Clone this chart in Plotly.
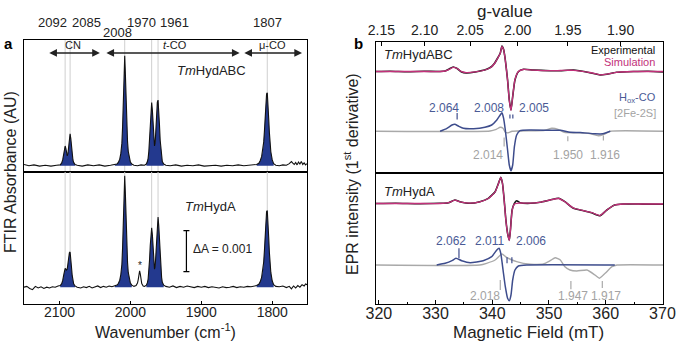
import numpy as np
import plotly.graph_objects as go

W, H = 677, 344
FONT = "Liberation Sans, Arial, Helvetica, sans-serif"

# ---------------- DATA ----------------
# FTIR (absorbance in units of 0.001)
ftir_wn_abc = [2150, 2143, 2136, 2128, 2120, 2112, 2104, 2099, 2097, 2095.5, 2094, 2093, 2092, 2091, 2090, 2089,
               2088, 2087, 2086, 2085, 2084, 2083, 2082, 2081, 2080, 2078, 2075, 2068, 2060, 2052, 2044, 2036,
               2028, 2022, 2019, 2017, 2015, 2013.5, 2012, 2011, 2010, 2009, 2008, 2007, 2006, 2005, 2004, 2003,
               2001.5, 2000, 1998, 1995, 1990, 1985, 1980, 1977.5, 1976, 1975, 1974, 1973, 1972, 1971, 1970,
               1969, 1968, 1967, 1966, 1965, 1964, 1963, 1962, 1961, 1960, 1959, 1958, 1957, 1956, 1955, 1953,
               1950, 1944, 1936, 1928, 1920, 1912, 1904, 1896, 1888, 1880, 1872, 1864, 1856, 1848, 1840, 1832,
               1826, 1822, 1819, 1817, 1815, 1813, 1812, 1811, 1810, 1809, 1808, 1807, 1806, 1805, 1804, 1803,
               1802, 1800, 1798, 1795, 1790, 1785, 1780, 1776, 1773, 1771, 1769, 1767, 1765, 1763, 1761, 1759,
               1757, 1755, 1753, 1751]
ftir_abs_abc = [0.03, 0.0, 0.02, -0.01, 0.01, -0.01, 0.01, 0.02, 0.06, 0.14, 0.28, 0.40, 0.48, 0.42, 0.30, 0.24,
                0.30, 0.48, 0.68, 0.78, 0.66, 0.44, 0.26, 0.14, 0.08, 0.03, 0.01, -0.01, 0.02, 0.0, 0.02, -0.01,
                0.01, 0.02, 0.04, 0.08, 0.16, 0.30, 0.55, 0.95, 1.6, 2.3, 2.68, 2.2, 1.5, 0.95, 0.58, 0.35,
                0.18, 0.09, 0.04, 0.01, 0.0, 0.02, 0.01, 0.04, 0.1, 0.18, 0.35, 0.65, 1.05, 1.4, 1.54,
                1.35, 0.95, 0.62, 0.48, 0.58, 0.9, 1.3, 1.55, 1.60, 1.38, 1.0, 0.62, 0.36, 0.2, 0.1, 0.04,
                0.01, 0.0, 0.02, -0.01, 0.01, 0.0, 0.02, -0.01, 0.0, 0.01, -0.01, 0.01, 0.0, 0.02, 0.0, 0.01,
                0.02, 0.03, 0.06, 0.12, 0.22, 0.40, 0.58, 0.85, 1.2, 1.55, 1.75, 1.78, 1.55, 1.15, 0.8, 0.52,
                0.34, 0.14, 0.05, 0.01, 0.0, 0.02, 0.01, 0.05, 0.1, 0.06, 0.03, 0.08, 0.02, 0.09, 0.04, 0.1,
                0.03, 0.07, 0.02, 0.05]

ftir_wn_hyda = [2150, 2146, 2142, 2138, 2134, 2130, 2126, 2122, 2118, 2114, 2110, 2106, 2102, 2099, 2097, 2095.5,
                2094, 2093, 2092, 2091, 2090, 2089, 2088, 2087, 2086, 2085, 2084, 2083, 2082, 2081, 2080, 2078,
                2075, 2070, 2066, 2062, 2058, 2054, 2050, 2046, 2042, 2038, 2034, 2030, 2026, 2022, 2019, 2017,
                2015, 2013.5, 2012, 2011, 2010, 2009, 2008, 2007, 2006, 2005, 2004, 2003, 2001.5, 2000, 1998,
                1995, 1992, 1990, 1989, 1988, 1987, 1986, 1985, 1984, 1982, 1980, 1977.5, 1976, 1975, 1974,
                1973, 1972, 1971, 1970, 1969, 1968, 1967, 1966, 1965, 1964, 1963, 1962, 1961, 1960, 1959, 1958,
                1957, 1956, 1955, 1953, 1950, 1945, 1940, 1935, 1930, 1925, 1920, 1915, 1910, 1905, 1900, 1895,
                1890, 1885, 1880, 1875, 1870, 1865, 1860, 1855, 1850, 1845, 1840, 1835, 1830, 1826, 1822, 1819,
                1817, 1815, 1813, 1812, 1811, 1810, 1809, 1808, 1807, 1806, 1805, 1804, 1803, 1802, 1800, 1798,
                1795, 1790, 1785, 1780, 1776, 1773, 1770, 1767, 1764, 1761, 1758, 1755, 1753, 1751]
ftir_abs_hyda = [0.0, 0.02, -0.03, -0.06, 0.02, -0.02, 0.01, -0.03, 0.0, -0.02, 0.01, 0.0, 0.03, 0.04, 0.08, 0.16,
                 0.3, 0.40, 0.46, 0.44, 0.42, 0.45, 0.58, 0.74, 0.84, 0.86, 0.72, 0.48, 0.28, 0.15, 0.08, 0.03,
                 0.0, -0.02, 0.01, -0.01, 0.02, -0.02, 0.0, 0.03, -0.01, 0.02, 0.0, 0.03, 0.01, 0.03, 0.05, 0.09,
                 0.17, 0.31, 0.56, 0.97, 1.62, 2.34, 2.72, 2.24, 1.52, 0.97, 0.6, 0.36, 0.19, 0.1, 0.05,
                 0.02, 0.04, 0.1, 0.18, 0.32, 0.40, 0.32, 0.18, 0.09, 0.03, 0.02, 0.05, 0.11, 0.2, 0.36,
                 0.66, 1.02, 1.34, 1.45, 1.28, 0.9, 0.6, 0.44, 0.52, 0.88, 1.32, 1.62, 1.71, 1.5, 1.1, 0.7,
                 0.42, 0.24, 0.12, 0.05, 0.02, 0.0, 0.03, -0.01, 0.02, 0.0, 0.03, 0.01, -0.01, 0.02, 0.0, 0.02,
                 -0.01, 0.01, 0.0, -0.02, 0.01, -0.01, 0.0, 0.02, -0.01, 0.01, 0.0, 0.02, 0.01, 0.02, 0.04, 0.07,
                 0.13, 0.24, 0.43, 0.62, 0.9, 1.28, 1.64, 1.84, 1.87, 1.64, 1.22, 0.84, 0.55, 0.36, 0.15, 0.06,
                 0.02, 0.01, 0.03, -0.01, 0.02, -0.04, 0.03, -0.02, 0.04, 0.0, 0.06, 0.03, 0.08, 0.06]

ftir_line_labels = [2092, 2085, 2008, 1970, 1961, 1807]
ftir_ticks = [2100, 2000, 1900, 1800]
ftir_star_wn = 1987
delta_A = 1.0  # = 0.001 absorbance

# EPR
field_ticks = [320, 330, 340, 350, 360, 370]
g_ticks = [2.15, 2.10, 2.05, 2.00, 1.95, 1.90]
g_tick_text = ["2.15", "2.10", "2.05", "2.00", "1.95", "1.90"]
mw_freq_ghz = 9.643

abc_exp_B = [319.5, 322, 325, 328, 330.8, 331.7, 332.4, 333.1, 333.8, 334.6, 335.4, 337.0, 339.0, 339.9, 340.4,
             341.0, 341.4, 341.7, 342.0, 342.3, 342.7, 343.0, 343.3, 343.6, 344.0, 344.6, 345.5, 347.2, 350.2,
             352.0, 354.3, 357.2, 359.0, 360.2, 361.9, 364.9, 367.5, 370.1]
abc_exp_I = [0.0, 0.03, -0.02, 0.02, 0.0, 0.05, 0.25, 0.45, 0.3, -0.05, -0.15, -0.05, 0.22, 0.5, 0.82,
             1.4, 1.82, 2.55, 2.2, 1.15, -0.85, -2.85, -3.85, -2.52, -0.85, -0.02, 0.22, 0.15, 0.08,
             0.08, 0.15, -0.12, -0.35, -0.28, -0.08, 0.0, 0.03, -0.05]
abc_sim_I = [0.0, 0.0, 0.0, 0.0, 0.0, 0.05, 0.22, 0.42, 0.3, -0.02, -0.12, -0.04, 0.2, 0.48, 0.8,
             1.38, 1.8, 2.5, 2.18, 1.12, -0.9, -2.9, -3.9, -2.5, -0.8, 0.0, 0.2, 0.14, 0.08,
             0.1, 0.12, -0.1, -0.33, -0.27, -0.08, 0.0, 0.0, 0.0]
abc_hox_B = [330.8, 332.0, 332.9, 333.4, 334.0, 334.9, 336.7, 338.7, 339.9, 340.8, 341.4, 341.7, 342.0, 342.3,
             342.7, 343.0, 343.3, 343.6, 343.9, 344.3, 344.9, 346.7, 350.2, 352.0, 353.7, 355.5, 358.1, 359.5,
             360.8]
abc_hox_I = [0.0, 0.3, 0.63, 0.7, 0.53, 0.3, 0.26, 0.4, 0.63, 1.13, 1.63, 1.86, 1.3, 0.13,
             -1.87, -3.37, -3.94, -3.37, -1.54, -0.37, 0.06, 0.13, 0.1, 0.1, -0.1, -0.12, -0.25, -0.25, 0.0]
abc_fes_B = [319.5, 339.6, 340.7, 341.4, 341.9, 342.3, 342.8, 343.5, 349.3, 350.5, 351.6, 352.7, 354.6, 356.9,
             358.7, 359.7, 360.8, 370.1]
abc_fes_I = [0.0, 0.03, 0.2, 0.4, 0.3, -0.1, -0.15, 0.0, 0.1, 0.3, 0.2, -0.1, -0.15, -0.2, -0.45, -0.3, 0.0, 0.0]
abc_g_hox = [2.064, 2.008, 2.005]
abc_g_fes = [2.014, 1.950, 1.916]

hyda_exp_B = [319.5, 323, 327, 330.8, 332.3, 333.4, 334.3, 336.1, 337.8, 339.3, 340.5, 341.1, 341.5, 341.8,
              342.1, 342.4, 342.7, 343.0, 343.2, 343.5, 343.9, 344.3, 344.9, 346.7, 348.4, 350.2, 351.7, 352.8,
              354.3, 356.1, 357.5, 359.0, 360.2, 361.6, 363.1, 366.5, 370.1]
hyda_exp_I = [0.0, 0.03, -0.02, 0.02, 0.08, 0.35, 0.18, 0.02, 0.18, 0.52, 1.18, 2.02, 2.62, 2.02,
              0.35, -1.65, -2.98, -3.65, -2.65, -0.65, 0.02, 0.28, 0.08, 0.02, 0.12, 0.35, 0.52, 0.18,
              -0.48, -0.72, -0.92, -1.22, -0.65, -0.15, -0.05, -0.06, -0.08]
hyda_sim_I = [0.0, 0.0, 0.0, 0.0, 0.08, 0.33, 0.17, 0.03, 0.17, 0.5, 1.15, 2.0, 2.6, 2.0,
              0.3, -1.7, -3.0, -3.7, -2.7, -0.7, -0.05, 0.02, 0.05, 0.03, 0.12, 0.35, 0.5, 0.17,
              -0.45, -0.72, -0.9, -1.2, -0.65, -0.15, -0.05, -0.05, -0.05]
hyda_hox_B = [330.2, 331.7, 332.9, 333.6, 334.6, 336.1, 338.4, 339.9, 340.8, 341.2, 341.5, 341.9, 342.3, 342.7,
              343.0, 343.3, 343.6, 344.0, 344.6, 346.1, 361.6]
hyda_hox_I = [0.0, 0.17, 0.43, 0.67, 0.43, 0.23, 0.43, 0.83, 1.5, 1.67, 1.17, -0.5, -2.17, -3.33,
              -3.57, -3.0, -1.5, -0.5, -0.1, 0.0, 0.0]
hyda_fes_B = [319.5, 337.8, 339.0, 340.5, 341.7, 342.5, 344.3, 346.7, 349.0, 350.2, 351.1, 352.0, 352.8, 353.7,
              354.9, 356.7, 358.1, 358.9, 359.9, 361.1, 362.0, 370.1]
hyda_fes_I = [0.0, 0.0, 0.17, 0.5, 1.1, 0.77, 0.33, 0.07, 0.1, 0.43, 0.73, 0.5, -0.17, -0.5,
              -0.6, -0.5, -1.0, -1.33, -0.83, -0.17, 0.0, 0.0]
hyda_g_hox = [2.062, 2.011, 2.006]
hyda_g_fes = [2.018, 1.947, 1.917]

# ---------------- STYLE / LAYOUT ----------------
C_MT = 71.4477 * mw_freq_ghz  # B(mT) = C/g
FILL = "#23398e"
BLUE = "#3d4c8c"
BLUE_T = "#4a5a96"
GRAY = "#a9a9a9"
GRAY_T = "#a3a3a3"
PINK = "#c2317a"

def fx(px):
    return px / W

def fy(py):
    return 1 - py / H

WN_RANGE = [2150, 1751]
B_RANGE = [319.5, 370.1]
YA_TOP = [-0.154, 3.066]
YA_BOT = [-0.41, 2.81]
YB_TOP = [-4.2, 8.96]
YB_BOT = [-3.9, 9.17]
OFF_B_TOP = 5.98
OFF_B_BOT = 6.15

fig = go.Figure()

# FTIR fills
fill_windows = [(2099, 2077), (2022, 1997), (1979, 1952), (1824, 1796)]
for wn, ab, xa, ya in [(ftir_wn_abc, ftir_abs_abc, "x", "y"), (ftir_wn_hyda, ftir_abs_hyda, "x2", "y2")]:
    wn_a = np.array(wn); ab_a = np.array(ab)
    for hi, lo in fill_windows:
        m = (wn_a <= hi) & (wn_a >= lo)
        fig.add_trace(go.Scatter(x=wn_a[m], y=np.clip(ab_a[m], 0, None), xaxis=xa, yaxis=ya, mode="lines",
                                 line=dict(width=0, color=FILL), fill="tozeroy", fillcolor=FILL,
                                 hoverinfo="skip", showlegend=False))
    fig.add_trace(go.Scatter(x=wn, y=ab, xaxis=xa, yaxis=ya, mode="lines",
                             line=dict(color="#111111", width=1.1), showlegend=False))

# scale bar dA = 0.001
fig.add_trace(go.Scatter(x=[1921], y=[0.38 + delta_A / 2], xaxis="x2", yaxis="y2", mode="markers",
                         marker=dict(size=1, color="rgba(0,0,0,0)"),
                         error_y=dict(type="data", array=[delta_A / 2], color="black", thickness=1.2, width=3),
                         showlegend=False))

# EPR traces
def add_epr(xa, ya, eB, eI, sI, off, hB, hI, fB, fI):
    fig.add_trace(go.Scatter(x=fB, y=fI, xaxis=xa, yaxis=ya, mode="lines",
                             line=dict(color=GRAY, width=1.4, shape="spline", smoothing=0.5), showlegend=False))
    fig.add_trace(go.Scatter(x=hB, y=hI, xaxis=xa, yaxis=ya, mode="lines",
                             line=dict(color=BLUE, width=1.5, shape="spline", smoothing=0.5), showlegend=False))
    fig.add_trace(go.Scatter(x=eB, y=np.array(eI) + off, xaxis=xa, yaxis=ya, mode="lines",
                             line=dict(color="#111111", width=1.6, shape="spline", smoothing=0.5), showlegend=False))
    fig.add_trace(go.Scatter(x=eB, y=np.array(sI) + off, xaxis=xa, yaxis=ya, mode="lines",
                             line=dict(color=PINK, width=1.3, shape="spline", smoothing=0.5), showlegend=False))

add_epr("x3", "y3", abc_exp_B, abc_exp_I, abc_sim_I, OFF_B_TOP, abc_hox_B, abc_hox_I, abc_fes_B, abc_fes_I)
add_epr("x4", "y4", hyda_exp_B, hyda_exp_I, hyda_sim_I, OFF_B_BOT, hyda_hox_B, hyda_hox_I, hyda_fes_B, hyda_fes_I)

frame = dict(showline=True, mirror=True, linecolor="black", linewidth=1.2, showgrid=False, zeroline=False,
             automargin=False)

fig.update_layout(
    width=W, height=H, margin=dict(l=0, r=0, t=0, b=0), template="none",
    paper_bgcolor="white", plot_bgcolor="white", showlegend=False,
    font=dict(family=FONT, color="#222222"),
    xaxis=dict(domain=[fx(24), fx(307)], range=WN_RANGE, anchor="y", showticklabels=False, ticks="", **frame),
    yaxis=dict(domain=[fy(172), fy(40)], range=YA_TOP, anchor="x", showticklabels=False, ticks="", **frame),
    xaxis2=dict(domain=[fx(24), fx(307)], range=WN_RANGE, anchor="y2", tickvals=ftir_ticks, ticks="inside",
                ticklen=3, tickcolor="black", ticklabelstandoff=-5,
                tickfont=dict(family=FONT, size=14, color="#222222"), **frame),
    yaxis2=dict(domain=[fy(304), fy(172)], range=YA_BOT, anchor="x2", showticklabels=False, ticks="", **frame),
    xaxis3=dict(domain=[fx(376), fx(663)], range=B_RANGE, anchor="y3", side="top",
                tickvals=[C_MT / g for g in g_ticks], ticktext=g_tick_text, ticks="inside", ticklen=4,
                tickcolor="black", tickfont=dict(family=FONT, size=14, color="#222222"), **frame),
    yaxis3=dict(domain=[fy(173.3), fy(41.7)], range=YB_TOP, anchor="x3", showticklabels=False, ticks="", **frame),
    xaxis4=dict(domain=[fx(376), fx(663)], range=B_RANGE, anchor="y4", tickvals=field_ticks, ticks="inside",
                ticklen=4, tickcolor="black", ticklabelstandoff=-5,
                tickfont=dict(family=FONT, size=16, color="#222222"),
                minor=dict(dtick=5, ticks="inside", ticklen=2, tickcolor="black"), **frame),
    yaxis4=dict(domain=[fy(304), fy(173.3)], range=YB_BOT, anchor="x4", showticklabels=False, ticks="", **frame),
)

shapes = []
ann = []

def A(text, x, y, xref="paper", yref="paper", size=13, color="#222222", xanchor="center", yanchor="middle",
      xshift=0, textangle=0):
    ann.append(dict(text=text, x=x, y=y, xref=xref, yref=yref, showarrow=False, xanchor=xanchor,
                    yanchor=yanchor, xshift=xshift, textangle=textangle,
                    font=dict(family=FONT, size=size, color=color)))

# FTIR reference lines
wn_rev = ftir_wn_hyda[::-1]; ab_rev = ftir_abs_hyda[::-1]
for wn in ftir_line_labels:
    shapes.append(dict(type="line", xref="x", yref="y domain", x0=wn, x1=wn, y0=0, y1=1,
                       line=dict(color="#cfcfcf", width=1), layer="below"))
    top = float(np.interp(wn, wn_rev, ab_rev))
    shapes.append(dict(type="line", xref="x2", yref="y2", x0=wn, x1=wn, y0=top, y1=YA_BOT[1],
                       line=dict(color="#cfcfcf", width=1), layer="below"))

label_shift = {2092: -13, 2085: 16, 2008: -7, 1970: -10, 1961: 16, 1807: 0}
label_row = {2092: 22, 2085: 22, 2008: 33, 1970: 22, 1961: 22, 1807: 22}
for wn in ftir_line_labels:
    A(str(wn), wn, fy(label_row[wn]), xref="x", size=13, xshift=label_shift[wn])

# arrows
for a0, a1 in [(2116.5, 2043), (2036, 1846), (1841.5, 1758)]:
    ann.append(dict(text="", x=a1, y=2.75, ax=a0, ay=2.75, xref="x", yref="y", axref="x", ayref="y",
                    showarrow=True, arrowhead=2, arrowside="end+start", arrowsize=1.1, arrowwidth=1.4,
                    arrowcolor="#222222"))
A("CN", 2081, 2.95, "x", "y", size=11)
A("<i>t</i>-CO", 1937, 2.95, "x", "y", size=11)
A("μ-CO", 1800, 2.95, "x", "y", size=11)
A("<i>Tm</i>HydABC", 1886, 2.33, "x", "y", size=13)
A("<i>Tm</i>HydA", 1887, 1.96, "x2", "y2", size=13)
A("*", ftir_star_wn, 0.52, "x2", "y2", size=10)
A("ΔA = 0.001", 1914, 0.93, "x2", "y2", size=12, xanchor="left")
A("Wavenumber (cm<sup>-1</sup>)", fx(165), fy(331), size=16)
A("FTIR Absorbance (AU)", fx(10), fy(172), size=16, textangle=-90)
A("<b>a</b>", fx(8), fy(43), size=15, color="black")

# EPR labels
A("g-value", fx(505), fy(11), size=17)
A("Magnetic Field (mT)", fx(528), fy(332), size=17)
A("EPR intensity (1<sup>st</sup> derivative)", fx(351), fy(174), size=16, textangle=-90)
A("<b>b</b>", fx(358), fy(43), size=15, color="black")

A("<i>Tm</i>HydABC", 320.5, 7.67, "x3", "y3", size=13, xanchor="left")
A("Experimental", 369.0, 8.17, "x3", "y3", size=11, xanchor="right", color="#111111")
A("Simulation", 369.0, 6.9, "x3", "y3", size=11, xanchor="right", color=PINK)
A("H<sub>ox</sub>-CO", 369.2, 3.34, "x3", "y3", size=11, xanchor="right", color=BLUE_T)
A("[2Fe-2S]", 369.2, 1.84, "x3", "y3", size=11, xanchor="right", color=GRAY_T)
A("<i>Tm</i>HydA", 320.5, 7.33, "x4", "y4", size=13, xanchor="left")

def gtick(xa, ya, g, y0, y1, color):
    b = C_MT / g
    shapes.append(dict(type="line", xref=xa, yref=ya, x0=b, x1=b, y0=y0, y1=y1, line=dict(color=color, width=1.2)))

# upper
for g, (y0, y1) in zip(abc_g_hox, [(1.17, 1.84), (1.27, 1.67), (1.27, 1.67)]):
    gtick("x3", "y3", g, y0, y1, BLUE)
for g, (y0, y1) in zip(abc_g_fes, [(-1.53, -0.63), (-1.0, -0.5), (-0.93, -0.43)]):
    gtick("x3", "y3", g, y0, y1, GRAY)
for g, sh in zip(abc_g_hox, [-13, -21, 21]):
    A(f"{g:.3f}", C_MT / g, 2.34, "x3", "y3", size=12, color=BLUE_T, xshift=sh)
for g, sh in zip(abc_g_fes, [-16, 0, 2]):
    A(f"{g:.3f}", C_MT / g, -2.33, "x3", "y3", size=12, color=GRAY_T, xshift=sh)
# lower
for g, (y0, y1) in zip(hyda_g_hox, [(0.67, 1.67), (0.17, 0.77), (0.17, 0.77)]):
    gtick("x4", "y4", g, y0, y1, BLUE)
for g, (y0, y1) in zip(hyda_g_fes, [(-2.5, -1.5), (-2.43, -1.6), (-2.3, -1.6)]):
    gtick("x4", "y4", g, y0, y1, GRAY)
for g, sh in zip(hyda_g_hox, [-8, -18, 19]):
    A(f"{g:.3f}", C_MT / g, 2.4, "x4", "y4", size=12, color=BLUE_T, xshift=sh)
for g, sh in zip(hyda_g_fes, [-15, 2, 4]):
    A(f"{g:.3f}", C_MT / g, -3.1, "x4", "y4", size=12, color=GRAY_T, xshift=sh)

fig.update_layout(shapes=shapes, annotations=ann)
fig.write_html("out.html", config={"displayModeBar": False},
               post_script="document.body.style.margin='0';document.body.style.overflow='hidden';")
